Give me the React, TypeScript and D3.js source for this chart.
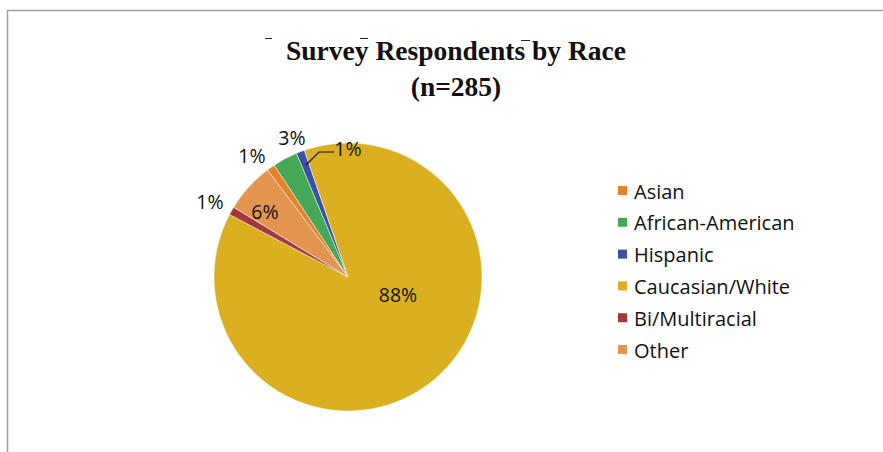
import React from "react";
import * as d3 from "d3";

const categories = ["Asian", "African-American", "Hispanic", "Caucasian/White", "Bi/Multiracial", "Other"];
const values = [1, 3, 1, 88, 1, 6];
const colors = ["#E5822A", "#45A857", "#3A52A3", "#DAB020", "#A5383A", "#E3944F"];
const titleLines = ["Survey Respondents by Race", "(n=285)"];

const W = 883, H = 452;
const cx = 348, cy = 277, R = 134;
const startDeg = -37;

export default function App() {
  const total = d3.sum(values);
  const pie = d3.pie<number>().sort(null).value(d => d)
    .startAngle((startDeg * Math.PI) / 180)
    .endAngle((startDeg * Math.PI) / 180 + 2 * Math.PI);
  const arcs = pie(values);
  const arc = d3.arc<d3.PieArcDatum<number>>().innerRadius(0).outerRadius(R);
  const labelFont = "'Open Sans', 'Lato', sans-serif";

  const labelOffsets: [number, number][] = [
    [-96, -122], [-56, -140], [0, -129], [50, 17], [-138, -76], [-83, -66],
  ];

  return (
    <svg width={W} height={H} style={{ display: "block", position: "absolute", left: 0, top: 0 }}>
      <rect x={0} y={0} width={W} height={H} fill="#fff" />
      <line x1={7} y1={10.5} x2={W} y2={10.5} stroke="#a0a0a0" strokeWidth={1.5} />
      <line x1={7.5} y1={10} x2={7.5} y2={H} stroke="#a0a0a0" strokeWidth={1.5} />
      {/* title artifacts */}
      <line x1={265} y1={38.5} x2={272} y2={38.5} stroke="#222" strokeWidth={1} />
      <line x1={360} y1={38.5} x2={368} y2={38.5} stroke="#222" strokeWidth={1} />
      <line x1={521} y1={40.5} x2={530} y2={40.5} stroke="#222" strokeWidth={1} />
      <text x={456} y={60} textAnchor="middle" fontFamily="'Liberation Serif', serif" fontWeight="bold" fontSize={27.5} fill="#111">{titleLines[0]}</text>
      <text x={456} y={96} textAnchor="middle" fontFamily="'Liberation Serif', serif" fontWeight="bold" fontSize={27.5} fill="#111">{titleLines[1]}</text>
      <g transform={`translate(${cx},${cy})`}>
        {arcs.map((a, i) => (
          <path key={i} d={arc(a) || ""} fill={colors[i]} stroke="#fff" strokeWidth={0.5} />
        ))}
        {arcs.map((a, i) => (
          <text key={i} x={labelOffsets[i][0]} y={labelOffsets[i][1]} textAnchor="middle" dominantBaseline="central" fontFamily={labelFont} fontSize={19.5} fill="#111">
            {`${Math.round((a.value / total) * 100)}%`}
          </text>
        ))}
      </g>
      <polyline points="306,165 319,152 334,152" fill="none" stroke="#111" strokeWidth={1.2} />
      {categories.map((c, i) => (
        <g key={c} transform={`translate(618,${191 + i * 31.8})`}>
          <rect x={0} y={-5} width={9} height={9} fill={colors[i]} />
          <text x={16} y={0} dominantBaseline="central" fontFamily={labelFont} fontSize={20} fill="#111">{c}</text>
        </g>
      ))}
    </svg>
  );
}
